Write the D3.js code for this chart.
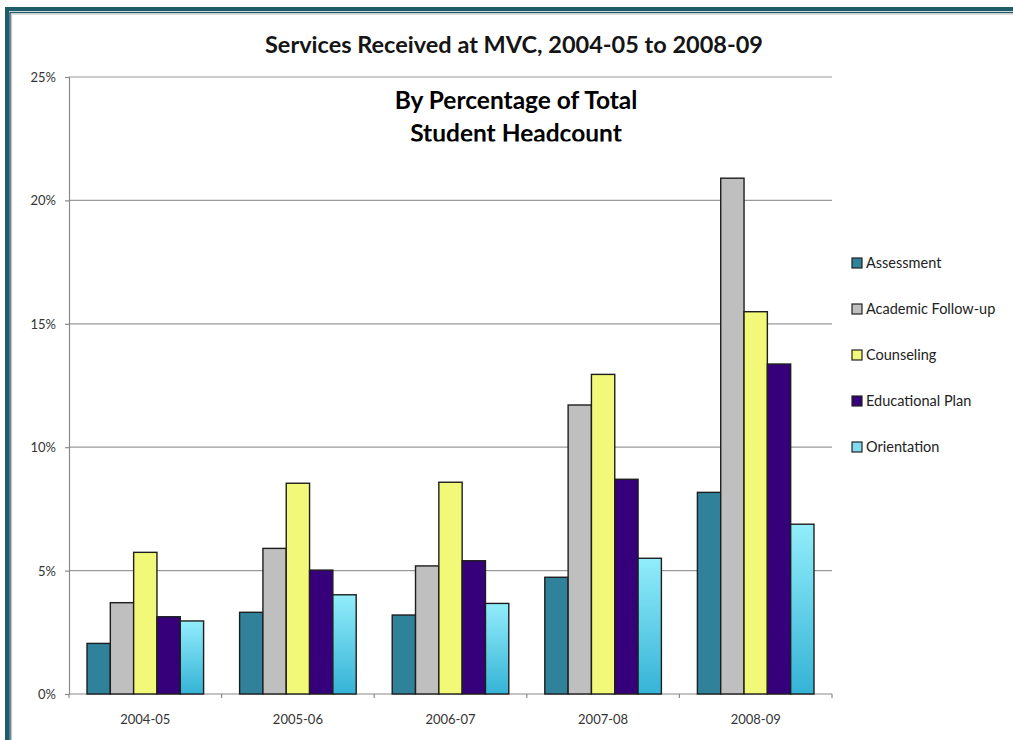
<!DOCTYPE html>
<html><head><meta charset="utf-8">
<script src="https://cdn.jsdelivr.net/npm/d3@7"></script>
<style>
html,body{margin:0;padding:0;background:#fff;}
svg{display:block;}
</style></head>
<body>
<svg id="chart" width="1013" height="740"></svg>
<script>
const years = ["2004-05","2005-06","2006-07","2007-08","2008-09"];
const seriesNames = ["Assessment","Academic Follow-up","Counseling","Educational Plan","Orientation"];
const assessment = [2.05, 3.31, 3.20, 4.73, 8.17];
const academicFollowUp = [3.70, 5.90, 5.19, 11.71, 20.90];
const counseling = [5.74, 8.54, 8.58, 12.95, 15.49];
const educationalPlan = [3.13, 5.02, 5.40, 8.70, 13.37];
const orientation = [2.96, 4.02, 3.67, 5.50, 6.88];
const yTicks = [0, 5, 10, 15, 20, 25];
const yTickLabels = ["0%","5%","10%","15%","20%","25%"];
const titleText = "Services Received at MVC, 2004-05 to 2008-09";
const subtitleLines = ["By Percentage of Total","Student Headcount"];

const seriesValues = [assessment, academicFollowUp, counseling, educationalPlan, orientation];
const fills = ["#2f8299","#bfbfbf","#f2f877","#36007a","url(#orientGrad)"];

const svg = d3.select("#chart");
const FONT = "Lato, 'Open Sans', sans-serif";

// frame
svg.append("rect").attr("x",5).attr("y",7).attr("width",1020).attr("height",760).attr("fill","#1f5b69");
svg.append("rect").attr("x",9).attr("y",11).attr("width",1020).attr("height",760).attr("fill","#ffffff");
svg.append("rect").attr("x",10).attr("y",12.5).attr("width",1020).attr("height",760).attr("fill","none").attr("stroke","#1f5b69").attr("stroke-width",1.5);
svg.append("rect").attr("x",11.5).attr("y",14).attr("width",1020).attr("height",760).attr("fill","none").attr("stroke","#c8c8c8").attr("stroke-width",1.2);

const defs = svg.append("defs");
const grad = defs.append("linearGradient").attr("id","orientGrad").attr("x1",0).attr("y1",0).attr("x2",0).attr("y2",1);
grad.append("stop").attr("offset","0%").attr("stop-color","#92edfb");
grad.append("stop").attr("offset","100%").attr("stop-color","#35b3d6");

const x0 = d3.scaleBand().domain(years).range([69,832]).paddingInner(0).paddingOuter(0);
const bw = x0.bandwidth();
const pad = bw*0.118;
const x1 = d3.scaleBand().domain(seriesNames).range([pad, bw-pad]);
const y = d3.scaleLinear().domain([0,25]).range([694,77]);

// gridlines
svg.append("g").selectAll("line").data(yTicks.filter(t=>t>0)).join("line")
  .attr("x1",69).attr("x2",832).attr("y1",d=>y(d)).attr("y2",d=>y(d))
  .attr("stroke","#9a9a9a").attr("stroke-width",1.2);

// y axis
const yAxis = d3.axisLeft(y).tickValues(yTicks).tickSize(4).tickFormat((d,i)=>yTickLabels[i]);
const gy = svg.append("g").attr("transform","translate(69,0)").call(yAxis);
gy.select(".domain").attr("stroke","#8a8a8a").attr("stroke-width",1.2);
gy.selectAll(".tick line").attr("stroke","#8a8a8a").attr("stroke-width",1.2);
gy.selectAll(".tick text").attr("x",-13).attr("dy","0.35em").attr("font-family",FONT).attr("font-size",13).attr("fill","#333");

// x axis
const gx = svg.append("g").attr("transform","translate(0,694)");
gx.append("line").attr("x1",69).attr("x2",832).attr("y1",0).attr("y2",0).attr("stroke","#8a8a8a").attr("stroke-width",1.2);
gx.selectAll("line.tk").data(years.map(d=>x0(d)).concat([832])).join("line").attr("class","tk")
  .attr("x1",d=>d).attr("x2",d=>d).attr("y1",0).attr("y2",4).attr("stroke","#8a8a8a").attr("stroke-width",1.2);
gx.selectAll("text").data(years).join("text")
  .attr("x",d=>x0(d)+bw/2).attr("y",25).attr("dy","0.35em").attr("text-anchor","middle")
  .attr("font-family",FONT).attr("font-size",13).attr("fill","#333").text(d=>d);

// bars
const groups = svg.append("g").selectAll("g").data(years).join("g")
  .attr("transform",d=>`translate(${x0(d)},0)`);
groups.selectAll("rect").data((d,i)=>seriesNames.map((s,j)=>({s, j, v: seriesValues[j][i]}))).join("rect")
  .attr("x",d=>x1(d.s)).attr("width",x1.bandwidth())
  .attr("y",d=>y(d.v)).attr("height",d=>y(0)-y(d.v))
  .attr("fill",d=>fills[d.j]).attr("stroke","#1e1e1e").attr("stroke-width",1.4);

// legend
const lg = svg.append("g");
const legY = d3.scalePoint().domain(seriesNames).range([263,447]);
lg.selectAll("rect").data(seriesNames).join("rect")
  .attr("x",852).attr("y",d=>legY(d)-5).attr("width",10).attr("height",10)
  .attr("fill",(d,i)=>i===4?"#7fdcf0":fills[i]).attr("stroke","#222").attr("stroke-width",1.2);
lg.selectAll("text").data(seriesNames).join("text")
  .attr("x",866).attr("y",d=>legY(d)).attr("dy","0.35em")
  .attr("font-family",FONT).attr("font-size",14.5).attr("fill","#222").text(d=>d);

// title
svg.append("text").attr("x",514).attr("y",53).attr("text-anchor","middle")
  .attr("font-family",FONT).attr("font-weight","bold").attr("font-size",23.5).attr("fill","#151515").text(titleText);

// subtitle, clipped at bottom
defs.append("clipPath").attr("id","subClip").append("rect").attr("x",300).attr("y",80).attr("width",430).attr("height",61.5);
const sub = svg.append("g").attr("clip-path","url(#subClip)");
sub.selectAll("text").data(subtitleLines).join("text")
  .attr("x",516).attr("y",(d,i)=>109+i*33).attr("text-anchor","middle")
  .attr("font-family",FONT).attr("font-weight","bold").attr("font-size",24.5).attr("fill","#000").text(d=>d);
</script>
</body></html>
